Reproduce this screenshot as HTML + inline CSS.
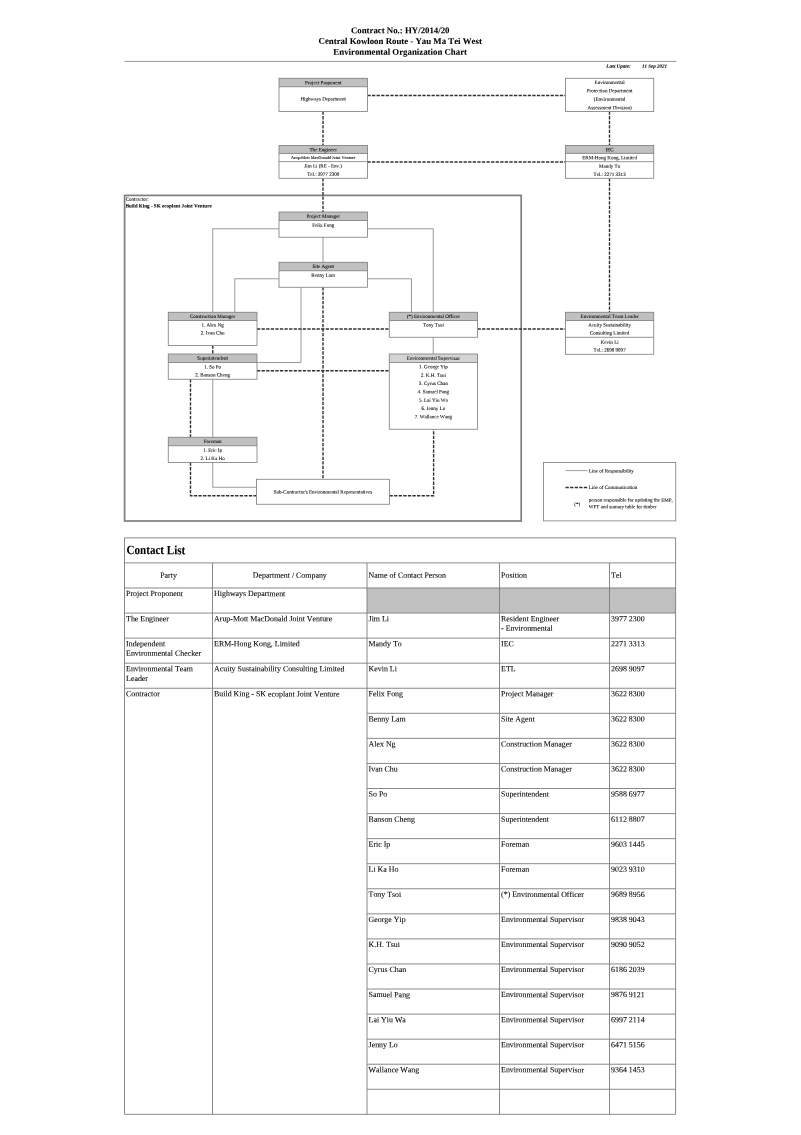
<!DOCTYPE html>
<html lang="en"><head><meta charset="utf-8"><title>Environmental Organization Chart</title>
<style>
html,body{margin:0;padding:0;background:#fff}
body{width:801px;height:1135px;overflow:hidden}
svg{display:block;will-change:transform;font-family:"Liberation Serif",serif}
text{white-space:pre;font-kerning:none;stroke:#000;stroke-width:0.08px;paint-order:stroke}
</style></head><body>
<svg width="801" height="1135" viewBox="0 0 801 1135">
<text transform="rotate(0.05 400.2 33.2)" x="400.20" y="33.20" font-size="8.82" text-anchor="middle" font-weight="bold">Contract No.: HY/2014/20</text>
<text transform="rotate(0.05 400.2 44.0)" x="400.20" y="43.95" font-size="8.82" text-anchor="middle" font-weight="bold">Central Kowloon Route - Yau Ma Tei West</text>
<text transform="rotate(0.05 400.2 54.7)" x="400.20" y="54.70" font-size="8.82" text-anchor="middle" font-weight="bold">Environmental Organization Chart</text>
<line x1="124.50" y1="61.40" x2="676.50" y2="61.40" stroke="#777" stroke-width="0.75"/>
<text transform="rotate(0.05 606.3 67.8)" x="606.30" y="67.82" font-size="5.08" font-weight="bold" font-style="italic">Last Upate:</text>
<text transform="rotate(0.05 641.9 67.8)" x="641.90" y="67.80" font-size="5.0" font-weight="bold" font-style="italic">11 Sep 2021</text>
<rect x="124.60" y="195.40" width="396.60" height="325.60" fill="none" stroke="#7e7e7e" stroke-width="1.7"/>
<text transform="rotate(0.05 125.7 200.7)" x="125.70" y="200.67" font-size="5.05">Contractor:</text>
<text transform="rotate(0.05 125.7 207.5)" x="125.70" y="207.48" font-size="5.1" font-weight="bold">Build King - SK ecoplant Joint Venture</text>
<polyline points="279.00,228.75 212.75,228.75 212.75,312.25" fill="none" stroke="#7c7c7c" stroke-width="0.78"/>
<polyline points="279.00,278.75 234.75,278.75 234.75,312.25" fill="none" stroke="#7c7c7c" stroke-width="0.78"/>
<polyline points="323.00,237.25 323.00,262.25" fill="none" stroke="#7c7c7c" stroke-width="0.78"/>
<polyline points="367.40,228.75 433.25,228.75 433.25,312.25" fill="none" stroke="#7c7c7c" stroke-width="0.78"/>
<polyline points="367.40,278.75 411.50,278.75 411.50,312.25" fill="none" stroke="#7c7c7c" stroke-width="0.78"/>
<polyline points="301.00,287.25 301.00,362.50 257.00,362.50" fill="none" stroke="#7c7c7c" stroke-width="0.78"/>
<polyline points="433.25,337.25 433.25,354.00" fill="none" stroke="#7c7c7c" stroke-width="0.78"/>
<polyline points="212.75,379.25 212.75,437.25" fill="none" stroke="#7c7c7c" stroke-width="0.78"/>
<polyline points="212.75,462.50 212.75,487.25 256.50,487.25" fill="none" stroke="#7c7c7c" stroke-width="0.78"/>
<polyline points="323.00,111.50 323.00,145.50" fill="none" stroke="#303030" stroke-width="1.4" stroke-dasharray="3.3 1.28"/>
<polyline points="323.00,178.25 323.00,212.00" fill="none" stroke="#303030" stroke-width="1.4" stroke-dasharray="3.3 1.28"/>
<polyline points="323.00,287.25 323.00,479.25" fill="none" stroke="#303030" stroke-width="1.4" stroke-dasharray="3.3 1.28"/>
<polyline points="367.40,95.50 565.50,95.50" fill="none" stroke="#303030" stroke-width="1.4" stroke-dasharray="3.3 1.28"/>
<polyline points="367.40,162.00 565.50,162.00" fill="none" stroke="#303030" stroke-width="1.4" stroke-dasharray="3.3 1.28"/>
<polyline points="609.50,111.50 609.50,145.50" fill="none" stroke="#303030" stroke-width="1.4" stroke-dasharray="3.3 1.28"/>
<polyline points="609.50,178.25 609.50,312.25" fill="none" stroke="#303030" stroke-width="1.4" stroke-dasharray="3.3 1.28"/>
<polyline points="257.00,329.00 389.25,329.00" fill="none" stroke="#303030" stroke-width="1.4" stroke-dasharray="3.3 1.28"/>
<polyline points="477.50,329.00 565.50,329.00" fill="none" stroke="#303030" stroke-width="1.4" stroke-dasharray="3.3 1.28"/>
<polyline points="257.00,370.75 389.25,370.75" fill="none" stroke="#303030" stroke-width="1.4" stroke-dasharray="3.3 1.28"/>
<polyline points="212.75,345.50 212.75,354.00" fill="none" stroke="#303030" stroke-width="1.4" stroke-dasharray="3.3 1.28"/>
<polyline points="190.50,379.25 190.50,437.25" fill="none" stroke="#303030" stroke-width="1.4" stroke-dasharray="3.3 1.28"/>
<polyline points="190.50,462.50 190.50,495.75 256.50,495.75" fill="none" stroke="#303030" stroke-width="1.4" stroke-dasharray="3.3 1.28"/>
<polyline points="389.50,495.75 433.60,495.75 433.60,429.25" fill="none" stroke="#303030" stroke-width="1.4" stroke-dasharray="3.3 1.28"/>
<rect x="279.00" y="78.25" width="88.40" height="33.25" fill="#fff"/>
<rect x="279.00" y="78.25" width="88.40" height="8.50" fill="#c0c0c0"/>
<rect x="279.00" y="78.25" width="88.40" height="33.25" fill="none" stroke="#7a7a7a" stroke-width="0.8"/>
<line x1="279.00" y1="86.75" x2="367.40" y2="86.75" stroke="#7a7a7a" stroke-width="0.8"/>
<text transform="rotate(0.05 323.2 84.2)" x="323.20" y="84.17" font-size="5.05" text-anchor="middle">Project Proponent</text>
<text transform="rotate(0.05 323.2 100.6)" x="323.20" y="100.57" font-size="5.05" text-anchor="middle">Highways Department</text>
<rect x="279.00" y="145.50" width="88.40" height="32.75" fill="#fff"/>
<rect x="279.00" y="145.50" width="88.40" height="8.00" fill="#c0c0c0"/>
<rect x="279.00" y="145.50" width="88.40" height="32.75" fill="none" stroke="#7a7a7a" stroke-width="0.8"/>
<line x1="279.00" y1="153.50" x2="367.40" y2="153.50" stroke="#7a7a7a" stroke-width="0.8"/>
<line x1="279.00" y1="161.60" x2="367.40" y2="161.60" stroke="#7a7a7a" stroke-width="0.8"/>
<text transform="rotate(0.05 323.2 151.2)" x="323.20" y="151.17" font-size="5.05" text-anchor="middle">The Engineer</text>
<text transform="rotate(0.05 323.2 158.9)" x="323.20" y="158.93" font-size="4.3" text-anchor="middle">Arup-Mott MacDonald Joint Venture</text>
<text transform="rotate(0.05 323.2 167.6)" x="323.20" y="167.57" font-size="5.05" text-anchor="middle">Jim Li (RE - Env.)</text>
<text transform="rotate(0.05 323.2 175.9)" x="323.20" y="175.87" font-size="5.05" text-anchor="middle">Tel.: 3977 2300</text>
<rect x="565.50" y="78.25" width="88.25" height="33.25" fill="#fff"/>
<rect x="565.50" y="78.25" width="88.25" height="33.25" fill="none" stroke="#7a7a7a" stroke-width="0.8"/>
<text transform="rotate(0.05 609.6 84.1)" x="609.62" y="84.07" font-size="5.05" text-anchor="middle">Environmental</text>
<text transform="rotate(0.05 609.6 92.2)" x="609.62" y="92.17" font-size="5.05" text-anchor="middle">Protection Department</text>
<text transform="rotate(0.05 609.6 100.8)" x="609.62" y="100.82" font-size="5.05" text-anchor="middle">(Environmental</text>
<text transform="rotate(0.05 609.6 109.3)" x="609.62" y="109.27" font-size="5.05" text-anchor="middle">Assessment Division)</text>
<rect x="565.50" y="145.50" width="88.25" height="32.75" fill="#fff"/>
<rect x="565.50" y="145.50" width="88.25" height="7.90" fill="#c0c0c0"/>
<rect x="565.50" y="145.50" width="88.25" height="32.75" fill="none" stroke="#7a7a7a" stroke-width="0.8"/>
<line x1="565.50" y1="153.40" x2="653.75" y2="153.40" stroke="#7a7a7a" stroke-width="0.8"/>
<line x1="565.50" y1="161.70" x2="653.75" y2="161.70" stroke="#7a7a7a" stroke-width="0.8"/>
<text transform="rotate(0.05 609.6 151.2)" x="609.62" y="151.17" font-size="5.05" text-anchor="middle">IEC</text>
<text transform="rotate(0.05 609.6 159.2)" x="609.62" y="159.17" font-size="5.05" text-anchor="middle">ERM-Hong Kong, Limited</text>
<text transform="rotate(0.05 609.6 167.8)" x="609.62" y="167.77" font-size="5.05" text-anchor="middle">Mandy To</text>
<text transform="rotate(0.05 609.6 176.1)" x="609.62" y="176.07" font-size="5.05" text-anchor="middle">Tel.: 2271 3313</text>
<rect x="279.00" y="212.00" width="88.40" height="25.25" fill="#fff"/>
<rect x="279.00" y="212.00" width="88.40" height="8.50" fill="#c0c0c0"/>
<rect x="279.00" y="212.00" width="88.40" height="25.25" fill="none" stroke="#7a7a7a" stroke-width="0.8"/>
<line x1="279.00" y1="220.50" x2="367.40" y2="220.50" stroke="#7a7a7a" stroke-width="0.8"/>
<text transform="rotate(0.05 323.2 217.9)" x="323.20" y="217.87" font-size="5.05" text-anchor="middle">Project Manager</text>
<text transform="rotate(0.05 323.2 226.9)" x="323.20" y="226.87" font-size="5.05" text-anchor="middle">Felix Fong</text>
<rect x="279.00" y="262.25" width="88.40" height="25.00" fill="#fff"/>
<rect x="279.00" y="262.25" width="88.40" height="8.50" fill="#c0c0c0"/>
<rect x="279.00" y="262.25" width="88.40" height="25.00" fill="none" stroke="#7a7a7a" stroke-width="0.8"/>
<line x1="279.00" y1="270.75" x2="367.40" y2="270.75" stroke="#7a7a7a" stroke-width="0.8"/>
<text transform="rotate(0.05 323.2 268.1)" x="323.20" y="268.07" font-size="5.05" text-anchor="middle">Site Agent</text>
<text transform="rotate(0.05 323.2 276.9)" x="323.20" y="276.87" font-size="5.05" text-anchor="middle">Benny Lam</text>
<rect x="168.25" y="312.25" width="88.75" height="33.25" fill="#fff"/>
<rect x="168.25" y="312.25" width="88.75" height="8.25" fill="#c0c0c0"/>
<rect x="168.25" y="312.25" width="88.75" height="33.25" fill="none" stroke="#7a7a7a" stroke-width="0.8"/>
<line x1="168.25" y1="320.50" x2="257.00" y2="320.50" stroke="#7a7a7a" stroke-width="0.8"/>
<text transform="rotate(0.05 212.6 318.0)" x="212.62" y="317.97" font-size="5.05" text-anchor="middle">Construction Manager</text>
<text transform="rotate(0.05 212.6 326.6)" x="212.62" y="326.57" font-size="5.05" text-anchor="middle">1. Alex Ng</text>
<text transform="rotate(0.05 212.6 334.6)" x="212.62" y="334.57" font-size="5.05" text-anchor="middle">2. Ivan Chu</text>
<rect x="168.25" y="354.00" width="88.75" height="25.25" fill="#fff"/>
<rect x="168.25" y="354.00" width="88.75" height="8.50" fill="#c0c0c0"/>
<rect x="168.25" y="354.00" width="88.75" height="25.25" fill="none" stroke="#7a7a7a" stroke-width="0.8"/>
<line x1="168.25" y1="362.50" x2="257.00" y2="362.50" stroke="#7a7a7a" stroke-width="0.8"/>
<text transform="rotate(0.05 212.6 359.9)" x="212.62" y="359.87" font-size="5.05" text-anchor="middle">Superintendent</text>
<text transform="rotate(0.05 212.6 368.5)" x="212.62" y="368.47" font-size="5.05" text-anchor="middle">1. So Po</text>
<text transform="rotate(0.05 212.6 376.6)" x="212.62" y="376.57" font-size="5.05" text-anchor="middle">2. Banson Cheng</text>
<rect x="168.25" y="437.25" width="88.75" height="25.25" fill="#fff"/>
<rect x="168.25" y="437.25" width="88.75" height="8.50" fill="#c0c0c0"/>
<rect x="168.25" y="437.25" width="88.75" height="25.25" fill="none" stroke="#7a7a7a" stroke-width="0.8"/>
<line x1="168.25" y1="445.75" x2="257.00" y2="445.75" stroke="#7a7a7a" stroke-width="0.8"/>
<text transform="rotate(0.05 212.6 443.1)" x="212.62" y="443.07" font-size="5.05" text-anchor="middle">Foreman</text>
<text transform="rotate(0.05 212.6 451.8)" x="212.62" y="451.77" font-size="5.05" text-anchor="middle">1. Eric Ip</text>
<text transform="rotate(0.05 212.6 460.1)" x="212.62" y="460.07" font-size="5.05" text-anchor="middle">2. Li Ka Ho</text>
<rect x="389.25" y="312.25" width="88.25" height="25.00" fill="#fff"/>
<rect x="389.25" y="312.25" width="88.25" height="8.25" fill="#c0c0c0"/>
<rect x="389.25" y="312.25" width="88.25" height="25.00" fill="none" stroke="#7a7a7a" stroke-width="0.8"/>
<line x1="389.25" y1="320.50" x2="477.50" y2="320.50" stroke="#7a7a7a" stroke-width="0.8"/>
<text transform="rotate(0.05 433.4 318.0)" x="433.38" y="317.97" font-size="5.05" text-anchor="middle">(*) Environmental Officer</text>
<text transform="rotate(0.05 433.4 326.6)" x="433.38" y="326.57" font-size="5.05" text-anchor="middle">Tony Tsoi</text>
<rect x="389.25" y="354.00" width="88.25" height="75.25" fill="#fff"/>
<rect x="389.25" y="354.00" width="88.25" height="8.50" fill="#d4d4d4"/>
<rect x="389.25" y="354.00" width="88.25" height="75.25" fill="none" stroke="#7a7a7a" stroke-width="0.8"/>
<line x1="389.25" y1="362.50" x2="477.50" y2="362.50" stroke="#7a7a7a" stroke-width="0.8"/>
<text transform="rotate(0.05 433.4 359.9)" x="433.38" y="359.87" font-size="5.05" text-anchor="middle">Environmental Supervisor</text>
<text transform="rotate(0.05 433.4 368.3)" x="433.38" y="368.32" font-size="5.05" text-anchor="middle">1. George Yip</text>
<text transform="rotate(0.05 433.4 376.7)" x="433.38" y="376.65" font-size="5.05" text-anchor="middle">2. K.H. Tsui</text>
<text transform="rotate(0.05 433.4 385.0)" x="433.38" y="384.99" font-size="5.05" text-anchor="middle">3. Cyrus Chan</text>
<text transform="rotate(0.05 433.4 393.3)" x="433.38" y="393.32" font-size="5.05" text-anchor="middle">4. Samuel Pang</text>
<text transform="rotate(0.05 433.4 401.7)" x="433.38" y="401.66" font-size="5.05" text-anchor="middle">5. Lai Yiu Wa</text>
<text transform="rotate(0.05 433.4 410.0)" x="433.38" y="409.99" font-size="5.05" text-anchor="middle">6. Jenny Lo</text>
<text transform="rotate(0.05 433.4 418.3)" x="433.38" y="418.33" font-size="5.05" text-anchor="middle">7. Wallance Wang</text>
<rect x="565.50" y="312.25" width="88.25" height="42.00" fill="#fff"/>
<rect x="565.50" y="312.25" width="88.25" height="8.25" fill="#c0c0c0"/>
<rect x="565.50" y="312.25" width="88.25" height="42.00" fill="none" stroke="#7a7a7a" stroke-width="0.8"/>
<line x1="565.50" y1="320.50" x2="653.75" y2="320.50" stroke="#7a7a7a" stroke-width="0.8"/>
<line x1="565.50" y1="337.30" x2="653.75" y2="337.30" stroke="#7a7a7a" stroke-width="0.8"/>
<text transform="rotate(0.05 609.6 318.0)" x="609.62" y="317.97" font-size="5.05" text-anchor="middle">Environmental Team Leader</text>
<text transform="rotate(0.05 609.6 326.6)" x="609.62" y="326.57" font-size="5.05" text-anchor="middle">Acuity Sustainability</text>
<text transform="rotate(0.05 609.6 334.6)" x="609.62" y="334.57" font-size="5.05" text-anchor="middle">Consulting Limited</text>
<text transform="rotate(0.05 609.6 343.7)" x="609.62" y="343.67" font-size="5.05" text-anchor="middle">Kevin Li</text>
<text transform="rotate(0.05 609.6 351.6)" x="609.62" y="351.57" font-size="5.05" text-anchor="middle">Tel.: 2698 9097</text>
<rect x="256.50" y="479.25" width="133.00" height="25.00" fill="#fff"/>
<rect x="256.50" y="479.25" width="133.00" height="25.00" fill="none" stroke="#7a7a7a" stroke-width="0.8"/>
<text transform="rotate(0.05 323.0 493.6)" x="323.00" y="493.57" font-size="5.05" text-anchor="middle">Sub-Contractor's Environmental Representatives</text>
<rect x="543.50" y="462.50" width="132.25" height="58.40" fill="#fff"/>
<rect x="543.50" y="462.50" width="132.25" height="58.40" fill="none" stroke="#7a7a7a" stroke-width="0.8"/>
<line x1="565.50" y1="470.60" x2="587.50" y2="470.60" stroke="#777" stroke-width="0.7"/>
<line x1="565.50" y1="487.50" x2="587.50" y2="487.50" stroke="#303030" stroke-width="1.4" stroke-dasharray="3.3 1.28"/>
<text transform="rotate(0.05 588.8 472.6)" x="588.75" y="472.57" font-size="5.05">Line of Responsibility</text>
<text transform="rotate(0.05 588.8 489.1)" x="588.75" y="489.07" font-size="5.05">Line of Communication</text>
<text transform="rotate(0.05 574.2 505.9)" x="574.25" y="505.87" font-size="5.05">(*)</text>
<text transform="rotate(0.05 588.8 501.6)" x="588.75" y="501.57" font-size="5.05">person responsible for updating the EMP,</text>
<text transform="rotate(0.05 588.8 508.2)" x="588.75" y="508.17" font-size="5.05">WFT and sumary table for timber</text>
<rect x="367.00" y="587.98" width="308.60" height="25.07" fill="#c0c0c0"/>
<line x1="124.50" y1="537.85" x2="675.60" y2="537.85" stroke="#7c7c7c" stroke-width="0.9"/>
<line x1="124.50" y1="562.92" x2="675.60" y2="562.92" stroke="#7c7c7c" stroke-width="0.9"/>
<line x1="124.50" y1="587.98" x2="675.60" y2="587.98" stroke="#7c7c7c" stroke-width="0.9"/>
<line x1="124.50" y1="613.05" x2="675.60" y2="613.05" stroke="#7c7c7c" stroke-width="0.9"/>
<line x1="124.50" y1="638.11" x2="675.60" y2="638.11" stroke="#7c7c7c" stroke-width="0.9"/>
<line x1="124.50" y1="663.18" x2="675.60" y2="663.18" stroke="#7c7c7c" stroke-width="0.9"/>
<line x1="124.50" y1="688.24" x2="675.60" y2="688.24" stroke="#7c7c7c" stroke-width="0.9"/>
<line x1="367.00" y1="713.31" x2="675.60" y2="713.31" stroke="#7c7c7c" stroke-width="0.9"/>
<line x1="367.00" y1="738.37" x2="675.60" y2="738.37" stroke="#7c7c7c" stroke-width="0.9"/>
<line x1="367.00" y1="763.44" x2="675.60" y2="763.44" stroke="#7c7c7c" stroke-width="0.9"/>
<line x1="367.00" y1="788.50" x2="675.60" y2="788.50" stroke="#7c7c7c" stroke-width="0.9"/>
<line x1="367.00" y1="813.57" x2="675.60" y2="813.57" stroke="#7c7c7c" stroke-width="0.9"/>
<line x1="367.00" y1="838.63" x2="675.60" y2="838.63" stroke="#7c7c7c" stroke-width="0.9"/>
<line x1="367.00" y1="863.70" x2="675.60" y2="863.70" stroke="#7c7c7c" stroke-width="0.9"/>
<line x1="367.00" y1="888.76" x2="675.60" y2="888.76" stroke="#7c7c7c" stroke-width="0.9"/>
<line x1="367.00" y1="913.83" x2="675.60" y2="913.83" stroke="#7c7c7c" stroke-width="0.9"/>
<line x1="367.00" y1="938.89" x2="675.60" y2="938.89" stroke="#7c7c7c" stroke-width="0.9"/>
<line x1="367.00" y1="963.96" x2="675.60" y2="963.96" stroke="#7c7c7c" stroke-width="0.9"/>
<line x1="367.00" y1="989.02" x2="675.60" y2="989.02" stroke="#7c7c7c" stroke-width="0.9"/>
<line x1="367.00" y1="1014.09" x2="675.60" y2="1014.09" stroke="#7c7c7c" stroke-width="0.9"/>
<line x1="367.00" y1="1039.15" x2="675.60" y2="1039.15" stroke="#7c7c7c" stroke-width="0.9"/>
<line x1="367.00" y1="1064.22" x2="675.60" y2="1064.22" stroke="#7c7c7c" stroke-width="0.9"/>
<line x1="367.00" y1="1089.28" x2="675.60" y2="1089.28" stroke="#7c7c7c" stroke-width="0.9"/>
<line x1="124.50" y1="1114.35" x2="675.60" y2="1114.35" stroke="#7c7c7c" stroke-width="0.9"/>
<line x1="124.50" y1="537.85" x2="124.50" y2="1114.35" stroke="#7c7c7c" stroke-width="0.9"/>
<line x1="675.60" y1="537.85" x2="675.60" y2="1114.35" stroke="#7c7c7c" stroke-width="0.9"/>
<line x1="212.50" y1="562.92" x2="212.50" y2="1114.35" stroke="#7c7c7c" stroke-width="0.9"/>
<line x1="367.00" y1="562.92" x2="367.00" y2="1114.35" stroke="#7c7c7c" stroke-width="0.9"/>
<line x1="499.50" y1="562.92" x2="499.50" y2="1114.35" stroke="#7c7c7c" stroke-width="0.9"/>
<line x1="609.50" y1="562.92" x2="609.50" y2="1114.35" stroke="#7c7c7c" stroke-width="0.9"/>
<text transform="rotate(0.05 126.5 554.1)" x="126.50" y="554.10" font-size="12.5" font-weight="bold" textLength="58.8" lengthAdjust="spacingAndGlyphs">Contact List</text>
<text transform="rotate(0.05 168.5 577.7)" x="168.50" y="577.67" font-size="7.9" text-anchor="middle">Party</text>
<text transform="rotate(0.05 289.8 577.7)" x="289.75" y="577.67" font-size="7.9" text-anchor="middle">Department / Company</text>
<text transform="rotate(0.05 368.6 577.7)" x="368.60" y="577.67" font-size="7.9">Name of Contact Person</text>
<text transform="rotate(0.05 501.1 577.7)" x="501.10" y="577.67" font-size="7.9">Position</text>
<text transform="rotate(0.05 611.1 577.7)" x="611.10" y="577.67" font-size="7.9">Tel</text>
<text transform="rotate(0.05 126.1 596.1)" x="126.10" y="596.08" font-size="7.9">Project Proponent</text>
<text transform="rotate(0.05 214.1 596.1)" x="214.10" y="596.08" font-size="7.9">Highways Department</text>
<text transform="rotate(0.05 126.1 621.1)" x="126.10" y="621.15" font-size="7.9">The Engineer</text>
<text transform="rotate(0.05 214.1 621.1)" x="214.10" y="621.15" font-size="7.9">Arup-Mott MacDonald Joint Venture</text>
<text transform="rotate(0.05 368.6 621.1)" x="368.60" y="621.15" font-size="7.9">Jim Li</text>
<text transform="rotate(0.05 501.1 621.1)" x="501.10" y="621.15" font-size="7.9">Resident Engineer</text>
<text transform="rotate(0.05 501.1 630.7)" x="501.10" y="630.75" font-size="7.9">- Environmental</text>
<text transform="rotate(0.05 611.1 621.1)" x="611.10" y="621.15" font-size="7.9">3977 2300</text>
<text transform="rotate(0.05 126.1 646.2)" x="126.10" y="646.21" font-size="7.9">Independent</text>
<text transform="rotate(0.05 126.1 655.8)" x="126.10" y="655.81" font-size="7.9">Environmental Checker</text>
<text transform="rotate(0.05 214.1 646.2)" x="214.10" y="646.21" font-size="7.9">ERM-Hong Kong, Limited</text>
<text transform="rotate(0.05 368.6 646.2)" x="368.60" y="646.21" font-size="7.9">Mandy To</text>
<text transform="rotate(0.05 501.1 646.2)" x="501.10" y="646.21" font-size="7.9">IEC</text>
<text transform="rotate(0.05 611.1 646.2)" x="611.10" y="646.21" font-size="7.9">2271 3313</text>
<text transform="rotate(0.05 126.1 671.3)" x="126.10" y="671.28" font-size="7.9">Environmental Team</text>
<text transform="rotate(0.05 126.1 680.9)" x="126.10" y="680.88" font-size="7.9">Leader</text>
<text transform="rotate(0.05 214.1 671.3)" x="214.10" y="671.28" font-size="7.9">Acuity Sustainability Consulting Limited</text>
<text transform="rotate(0.05 368.6 671.3)" x="368.60" y="671.28" font-size="7.9">Kevin Li</text>
<text transform="rotate(0.05 501.1 671.3)" x="501.10" y="671.28" font-size="7.9">ETL</text>
<text transform="rotate(0.05 611.1 671.3)" x="611.10" y="671.28" font-size="7.9">2698 9097</text>
<text transform="rotate(0.05 126.1 696.3)" x="126.10" y="696.34" font-size="7.9">Contractor</text>
<text transform="rotate(0.05 214.1 696.3)" x="214.10" y="696.34" font-size="7.9">Build King - SK ecoplant Joint Venture</text>
<text transform="rotate(0.05 368.6 696.3)" x="368.60" y="696.34" font-size="7.9">Felix Fong</text>
<text transform="rotate(0.05 501.1 696.3)" x="501.10" y="696.34" font-size="7.9">Project Manager</text>
<text transform="rotate(0.05 611.1 696.3)" x="611.10" y="696.34" font-size="7.9">3622 8300</text>
<text transform="rotate(0.05 368.6 721.4)" x="368.60" y="721.41" font-size="7.9">Benny Lam</text>
<text transform="rotate(0.05 501.1 721.4)" x="501.10" y="721.41" font-size="7.9">Site Agent</text>
<text transform="rotate(0.05 611.1 721.4)" x="611.10" y="721.41" font-size="7.9">3622 8300</text>
<text transform="rotate(0.05 368.6 746.5)" x="368.60" y="746.47" font-size="7.9">Alex Ng</text>
<text transform="rotate(0.05 501.1 746.5)" x="501.10" y="746.47" font-size="7.9">Construction Manager</text>
<text transform="rotate(0.05 611.1 746.5)" x="611.10" y="746.47" font-size="7.9">3622 8300</text>
<text transform="rotate(0.05 368.6 771.5)" x="368.60" y="771.54" font-size="7.9">Ivan Chu</text>
<text transform="rotate(0.05 501.1 771.5)" x="501.10" y="771.54" font-size="7.9">Construction Manager</text>
<text transform="rotate(0.05 611.1 771.5)" x="611.10" y="771.54" font-size="7.9">3622 8300</text>
<text transform="rotate(0.05 368.6 796.6)" x="368.60" y="796.60" font-size="7.9">So Po</text>
<text transform="rotate(0.05 501.1 796.6)" x="501.10" y="796.60" font-size="7.9">Superintendent</text>
<text transform="rotate(0.05 611.1 796.6)" x="611.10" y="796.60" font-size="7.9">9588 6977</text>
<text transform="rotate(0.05 368.6 821.7)" x="368.60" y="821.67" font-size="7.9">Banson Cheng</text>
<text transform="rotate(0.05 501.1 821.7)" x="501.10" y="821.67" font-size="7.9">Superintendent</text>
<text transform="rotate(0.05 611.1 821.7)" x="611.10" y="821.67" font-size="7.9">6112 8807</text>
<text transform="rotate(0.05 368.6 846.7)" x="368.60" y="846.73" font-size="7.9">Eric Ip</text>
<text transform="rotate(0.05 501.1 846.7)" x="501.10" y="846.73" font-size="7.9">Foreman</text>
<text transform="rotate(0.05 611.1 846.7)" x="611.10" y="846.73" font-size="7.9">9603 1445</text>
<text transform="rotate(0.05 368.6 871.8)" x="368.60" y="871.80" font-size="7.9">Li Ka Ho</text>
<text transform="rotate(0.05 501.1 871.8)" x="501.10" y="871.80" font-size="7.9">Foreman</text>
<text transform="rotate(0.05 611.1 871.8)" x="611.10" y="871.80" font-size="7.9">9023 9310</text>
<text transform="rotate(0.05 368.6 896.9)" x="368.60" y="896.86" font-size="7.9">Tony Tsoi</text>
<text transform="rotate(0.05 501.1 896.9)" x="501.10" y="896.86" font-size="7.9">(*) Environmental Officer</text>
<text transform="rotate(0.05 611.1 896.9)" x="611.10" y="896.86" font-size="7.9">9689 8956</text>
<text transform="rotate(0.05 368.6 921.9)" x="368.60" y="921.93" font-size="7.9">George Yip</text>
<text transform="rotate(0.05 501.1 921.9)" x="501.10" y="921.93" font-size="7.9">Environmental Supervisor</text>
<text transform="rotate(0.05 611.1 921.9)" x="611.10" y="921.93" font-size="7.9">9838 9043</text>
<text transform="rotate(0.05 368.6 947.0)" x="368.60" y="946.99" font-size="7.9">K.H. Tsui</text>
<text transform="rotate(0.05 501.1 947.0)" x="501.10" y="946.99" font-size="7.9">Environmental Supervisor</text>
<text transform="rotate(0.05 611.1 947.0)" x="611.10" y="946.99" font-size="7.9">9090 9052</text>
<text transform="rotate(0.05 368.6 972.1)" x="368.60" y="972.06" font-size="7.9">Cyrus Chan</text>
<text transform="rotate(0.05 501.1 972.1)" x="501.10" y="972.06" font-size="7.9">Environmental Supervisor</text>
<text transform="rotate(0.05 611.1 972.1)" x="611.10" y="972.06" font-size="7.9">6186 2039</text>
<text transform="rotate(0.05 368.6 997.1)" x="368.60" y="997.12" font-size="7.9">Samuel Pang</text>
<text transform="rotate(0.05 501.1 997.1)" x="501.10" y="997.12" font-size="7.9">Environmental Supervisor</text>
<text transform="rotate(0.05 611.1 997.1)" x="611.10" y="997.12" font-size="7.9">9876 9121</text>
<text transform="rotate(0.05 368.6 1022.2)" x="368.60" y="1022.19" font-size="7.9">Lai Yiu Wa</text>
<text transform="rotate(0.05 501.1 1022.2)" x="501.10" y="1022.19" font-size="7.9">Environmental Supervisor</text>
<text transform="rotate(0.05 611.1 1022.2)" x="611.10" y="1022.19" font-size="7.9">6997 2114</text>
<text transform="rotate(0.05 368.6 1047.2)" x="368.60" y="1047.25" font-size="7.9">Jenny Lo</text>
<text transform="rotate(0.05 501.1 1047.2)" x="501.10" y="1047.25" font-size="7.9">Environmental Supervisor</text>
<text transform="rotate(0.05 611.1 1047.2)" x="611.10" y="1047.25" font-size="7.9">6471 5156</text>
<text transform="rotate(0.05 368.6 1072.3)" x="368.60" y="1072.32" font-size="7.9">Wallance Wang</text>
<text transform="rotate(0.05 501.1 1072.3)" x="501.10" y="1072.32" font-size="7.9">Environmental Supervisor</text>
<text transform="rotate(0.05 611.1 1072.3)" x="611.10" y="1072.32" font-size="7.9">9364 1453</text>
</svg>
</body></html>
